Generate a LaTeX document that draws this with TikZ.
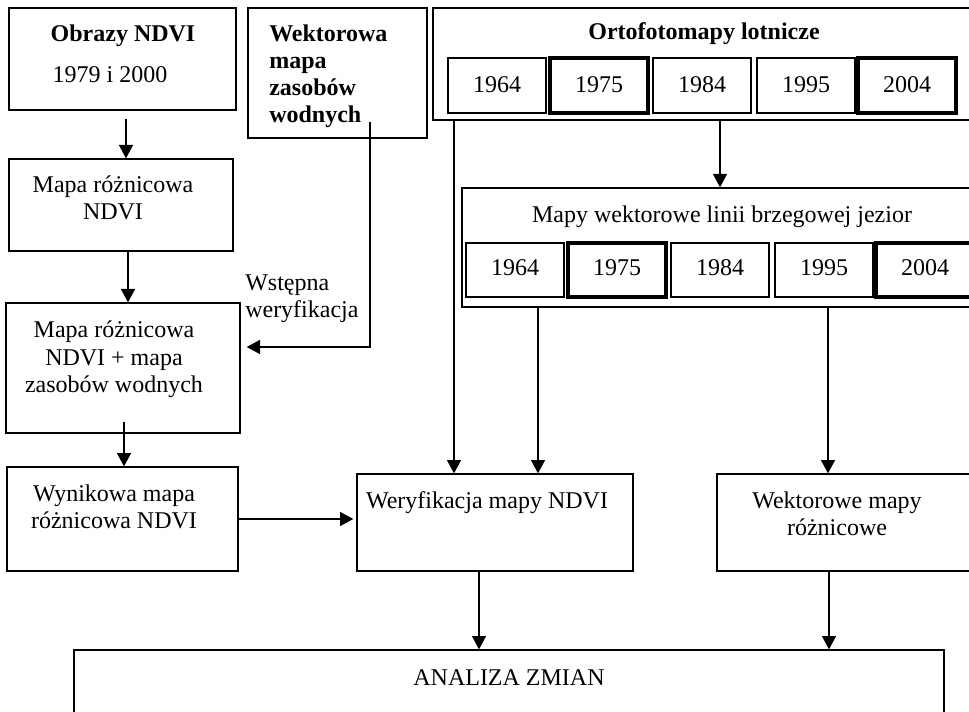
\documentclass[tikz,border=0pt]{standalone}
\usepackage{fontspec}
\setmainfont{Liberation Serif}
\usetikzlibrary{arrows.meta,fit,calc}
\tikzset{
	box/.style = {draw, line width=1pt, inner sep=0pt},
	yearbox/.style = {box},
	yearbox_thick/.style = {box, line width=3pt},
	txt/.style = {inner sep=0pt, align=center, font=\fontsize{18}{20.25}\selectfont},
	txt_bf/.style = {txt, font=\fontsize{18}{20.25}\selectfont\bfseries},
	arr/.style = {-{Triangle[length=10pt,width=10.5pt]}, line width=1pt}
}
\begin{document}
\begin{tikzpicture}[x=0.75pt, y=-0.75pt]
\clip (0,0) rectangle (969,712);
% boxes
\node [box, fit={(9,8) (236,110)}] (obrazy) {};
\node [box, fit={(248,8) (427,138)}] (wekt) {};
\node [box, fit={(433,8) (1000,120)}] (orto) {};
\node [box, fit={(9,159) (233,251)}] (mapa1) {};
\node [box, fit={(462,188) (1000,307)}] (mapy) {};
\node [box, fit={(6,303) (240,433)}] (mapa2) {};
\node [box, fit={(7,467) (238,571)}] (wynik) {};
\node [box, fit={(357,474) (633,571)}] (weryf) {};
\node [box, fit={(717,474) (1000,571)}] (wekt2) {};
\node [box, fit={(74,650) (944,760)}] (analiza) {};
\foreach \yr/\xl/\sty in {1964/448/yearbox, 1975/550/yearbox_thick, 1984/653/yearbox, 1995/757/yearbox, 2004/858/yearbox_thick}{
	\node [\sty, fit={(\xl,58) (\xl+98,113)}] (top\yr) {};
	\node [txt, anchor=base] (top\yr_t) at (top\yr.center |- 0,93) {\yr};
}
\foreach \yr/\xl/\sty in {1964/466/yearbox, 1975/568/yearbox_thick, 1984/671/yearbox, 1995/775/yearbox, 2004/876/yearbox_thick}{
	\node [\sty, fit={(\xl,243) (\xl+98,297)}] (bot\yr) {};
	\node [txt, anchor=base] (bot\yr_t) at (bot\yr.center |- 0,276) {\yr};
}
% texts (base = last line)
\node [txt_bf, anchor=base] (obrazy_t) at (123,42) {Obrazy NDVI};
\node [txt, anchor=base] (obrazy_lata) at (110,83) {1979 i 2000};
\node [txt_bf, align=left, anchor=base west] (wekt_t) at (269,123) {Wektorowa\\mapa\\zasobów\\wodnych};
\node [txt_bf, anchor=base] (orto_t) at (704,40) {Ortofotomapy lotnicze};
\node [txt, anchor=base] (mapa1_t) at (113,220) {Mapa różnicowa\\NDVI};
\node [txt, anchor=base] (mapy_t) at (722,223) {Mapy wektorowe linii brzegowej jezior};
\node [txt, anchor=base] (mapa2_t) at (114,392) {Mapa różnicowa\\NDVI + mapa\\zasobów wodnych};
\node [txt, align=left, anchor=base west] (wstepna) at (245,318) {Wstępna\\weryfikacja};
\node [txt, anchor=base] (wynik_t) at (114,528) {Wynikowa mapa\\różnicowa NDVI};
\node [txt, anchor=base] (weryf_t) at (487,508) {Weryfikacja mapy NDVI};
\node [txt, anchor=base] (wekt2_t) at (837,535) {Wektorowe mapy\\różnicowe};
\node [txt, anchor=base] (analiza_t) at (509,685) {ANALIZA ZMIAN};
% connectors
\coordinate (c_obr) at (126,119);
\coordinate (c_map1) at (128,251);
\coordinate (c_wek) at (370,122);
\coordinate (c_wek_b) at (370,347);
\coordinate (c_map2) at (124,422);
\coordinate (c_wyn) at (238,519);
\coordinate (c_ort_l) at (454,120);
\coordinate (c_ort_m) at (720,120);
\coordinate (c_mapy_l) at (538,307);
\coordinate (c_mapy_r) at (828,307);
\coordinate (c_wer) at (479,571);
\coordinate (c_wek2) at (829,571);
\draw [arr] (c_obr) -- (c_obr |- mapa1.north);
\draw [arr] (c_map1) -- (c_map1 |- mapa2.north);
\draw [arr] (c_wek) -- (c_wek_b) -- ([xshift=4.5pt]c_wek_b -| mapa2.east);
\draw [arr] (c_map2) -- (c_map2 |- wynik.north);
\draw [arr] (c_wyn) -- ([xshift=-2.25pt]c_wyn -| weryf.west);
\draw [arr] (c_ort_l) -- (c_ort_l |- weryf.north);
\draw [arr] (c_ort_m) -- (c_ort_m |- mapy.north);
\draw [arr] (c_mapy_l) -- (c_mapy_l |- weryf.north);
\draw [arr] (c_mapy_r) -- (c_mapy_r |- wekt2.north);
\draw [arr] (c_wer) -- (c_wer |- analiza.north);
\draw [arr] (c_wek2) -- (c_wek2 |- analiza.north);
\end{tikzpicture}
\end{document}
